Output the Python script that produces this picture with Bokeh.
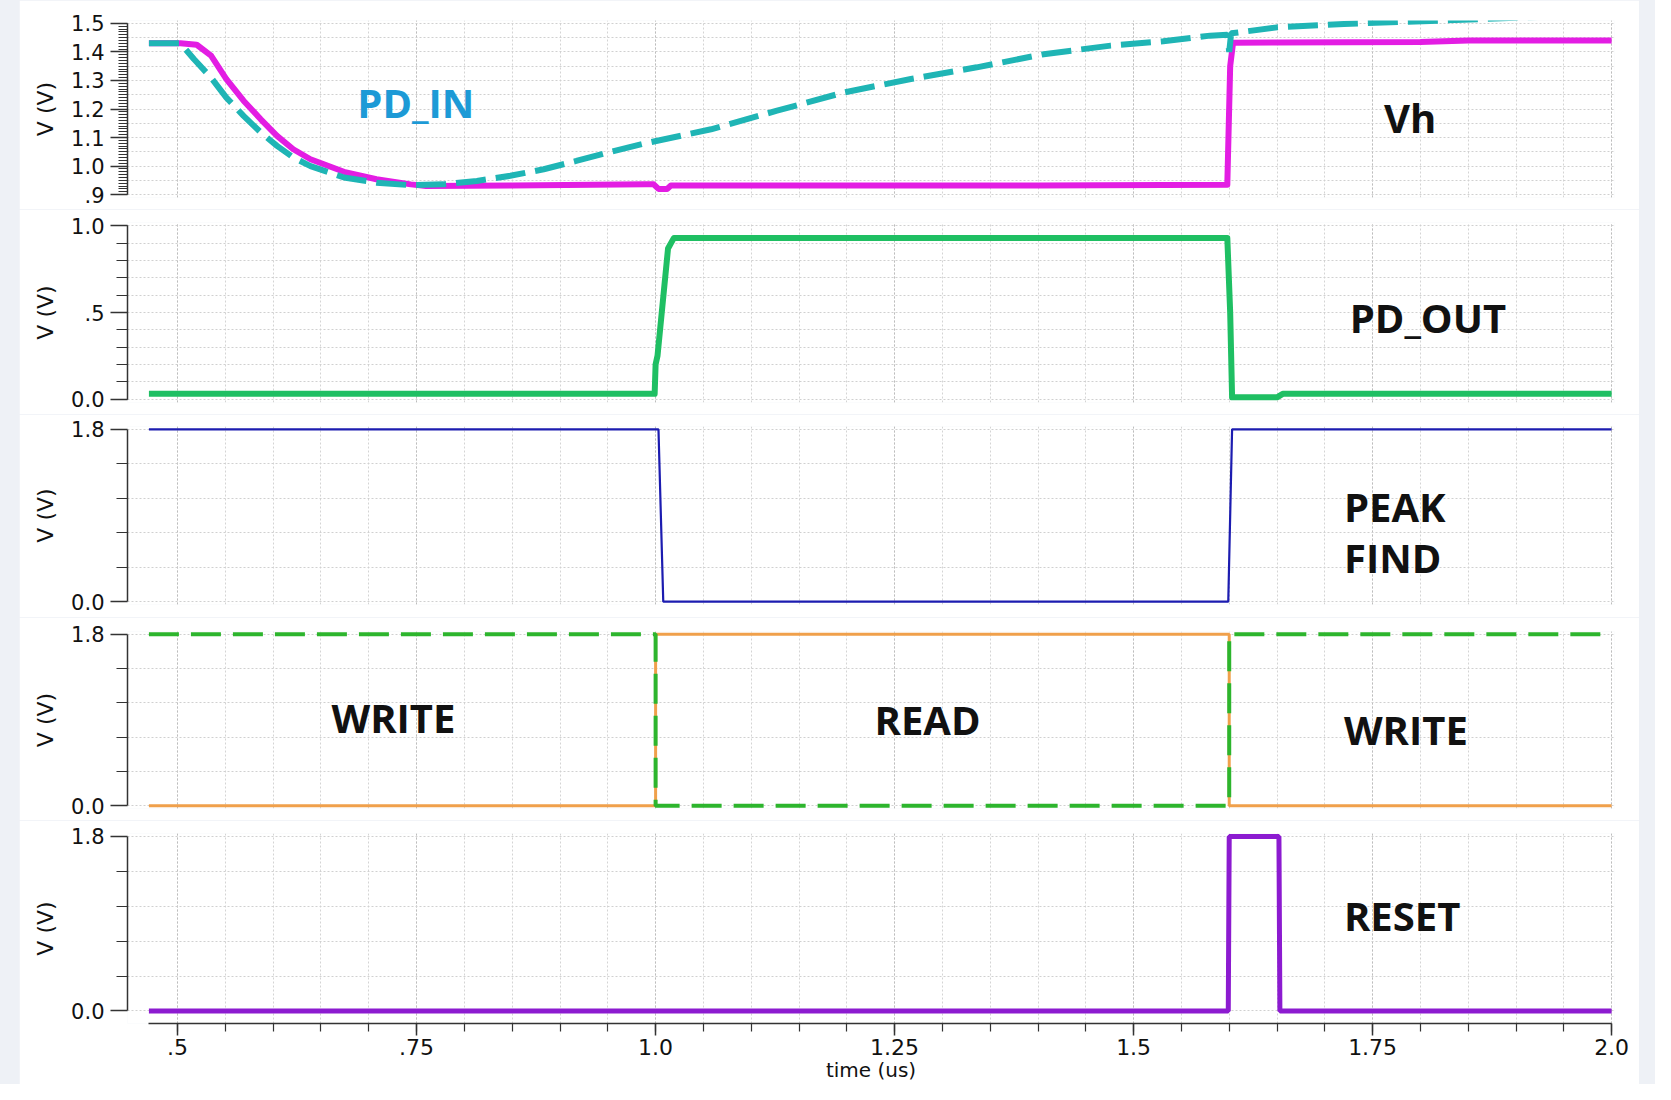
from bokeh.plotting import figure
from bokeh.models import Range1d, FixedTicker, Grid, Spacer, Label
from bokeh.layouts import column, row
from bokeh.embed import file_html
from bokeh.resources import INLINE

# ---------------- data (time in us, voltage in V) ----------------
vh_t = [0.47, 0.503, 0.52, 0.535, 0.551, 0.569, 0.587, 0.604, 0.621, 0.639, 0.674, 0.708,
        0.744, 0.76, 0.85, 0.99, 0.998, 1.003, 1.012, 1.016, 1.2, 1.4, 1.598, 1.601, 1.604,
        1.65, 1.8, 1.85, 2.0]
vh_v = [1.43, 1.43, 1.425, 1.387, 1.305, 1.229, 1.164, 1.106, 1.059, 1.024, 0.980, 0.954,
        0.936, 0.93, 0.932, 0.936, 0.936, 0.92, 0.92, 0.932, 0.932, 0.932, 0.935, 1.35, 1.432,
        1.433, 1.435, 1.44, 1.44]

pdin_t = [0.47, 0.503, 0.517, 0.535, 0.551, 0.569, 0.587, 0.604, 0.621, 0.639, 0.674, 0.708,
          0.744, 0.778, 0.813, 0.848, 0.883, 0.917, 0.953, 0.987, 1.058, 1.127, 1.197, 1.267,
          1.336, 1.406, 1.476, 1.531, 1.58, 1.598, 1.600, 1.602, 1.65, 1.72, 1.824, 1.9, 2.0]
pdin_v = [1.43, 1.43, 1.375, 1.31, 1.24, 1.176, 1.118, 1.071, 1.03, 1.0, 0.96, 0.942,
          0.933, 0.936, 0.948, 0.966, 0.989, 1.018, 1.05, 1.078, 1.129, 1.194, 1.258, 1.305,
          1.346, 1.392, 1.422, 1.437, 1.457, 1.46, 1.40, 1.465, 1.486, 1.498, 1.51, 1.52, 1.53]

pdout_t = [0.47, 0.999, 1.0, 1.002, 1.013, 1.019, 1.598, 1.601, 1.603, 1.65, 1.656, 2.0]
pdout_v = [0.03, 0.03, 0.2, 0.25, 0.87, 0.93, 0.93, 0.5, 0.01, 0.01, 0.03, 0.03]

peak_t = [0.47, 1.003, 1.008, 1.599, 1.603, 2.0]
peak_v = [1.8, 1.8, 0.0, 0.0, 1.8, 1.8]

read_t = [0.47, 1.0, 1.0, 1.6, 1.6, 2.0]
read_v = [0.0, 0.0, 1.8, 1.8, 0.0, 0.0]

write_t = [0.47, 1.0, 1.0, 1.6, 1.6, 2.0]
write_v = [1.8, 1.8, 0.0, 0.0, 1.8, 1.8]

reset_t = [0.47, 1.599, 1.600, 1.652, 1.653, 2.0]
reset_v = [0.0, 0.0, 1.8, 1.8, 0.0, 0.0]

# ticks / tick labels
x_ticks = [0.5, 0.75, 1.0, 1.25, 1.5, 1.75, 2.0]
x_tick_labels = [".5", ".75", "1.0", "1.25", "1.5", "1.75", "2.0"]
top_ticks = [0.9, 1.0, 1.1, 1.2, 1.3, 1.4, 1.5]
top_tick_labels = [".9", "1.0", "1.1", "1.2", "1.3", "1.4", "1.5"]
pdout_ticks = [0.0, 0.5, 1.0]
pdout_tick_labels = ["0.0", ".5", "1.0"]
dig_ticks = [0.0, 1.8]
dig_tick_labels = ["0.0", "1.8"]
dig_minor = [0.36, 0.72, 1.08, 1.44]

# ---------------- styling ----------------
BG = "#eef1f6"
FIG_W = 1620
TICK_FONT = "DejaVu Sans"
LBL_FONT = "Open Sans"

x_range = Range1d(0.4476, 2.003)
x_minor = [round(0.5 + 0.05 * i, 2) for i in range(31)]


def make_fig(height, yr, top, bottom, xaxis=False):
    p = figure(width=FIG_W, height=height, x_range=x_range, y_range=Range1d(*yr),
               output_backend="svg", toolbar_location=None,
               x_axis_location="below" if xaxis else None,
               min_border_left=108, min_border_right=25,
               min_border_top=top, min_border_bottom=bottom)
    p.outline_line_color = None
    p.border_fill_color = "white"
    p.background_fill_color = "white"
    p.grid.visible = False
    # vertical grid
    p.add_layout(Grid(dimension=0, ticker=FixedTicker(ticks=x_minor),
                      grid_line_color="#d4d4d4", grid_line_dash="2 2", grid_line_width=1))
    p.add_layout(Grid(dimension=0, ticker=FixedTicker(ticks=x_ticks),
                      grid_line_color="#bdbdbd", grid_line_dash="2 2", grid_line_width=1))
    ax = p.yaxis[0]
    ax.axis_label = "V (V)"
    ax.axis_label_text_font = TICK_FONT
    ax.axis_label_text_font_style = "normal"
    ax.axis_label_text_font_size = "22px"
    ax.axis_label_text_color = "#111111"
    ax.axis_label_standoff = 10
    ax.major_label_text_font = TICK_FONT
    ax.major_label_text_font_size = "21px"
    ax.major_label_text_color = "#111111"
    ax.major_label_standoff = 6
    ax.axis_line_color = "#333333"
    ax.axis_line_width = 1.5
    ax.major_tick_line_color = "#333333"
    ax.minor_tick_line_color = "#333333"
    ax.major_tick_line_width = 1.5
    ax.minor_tick_line_width = 1.2
    ax.major_tick_in = 0
    ax.minor_tick_in = 0
    ax.major_tick_out = 17
    ax.minor_tick_out = 11
    return p


def hgrid(p, ticks, color="#d0d0d0"):
    p.add_layout(Grid(dimension=1, ticker=FixedTicker(ticks=ticks),
                      grid_line_color=color, grid_line_dash="2 2", grid_line_width=1))


def add_text(p, x, y, txt, color="#111111", size="40px"):
    p.add_layout(Label(x=x, y=y, text=txt, text_font=LBL_FONT, text_font_style="bold",
                       text_font_size=size, text_color=color, text_baseline="middle",
                       text_align="left"))


# ---- panel 1: Vh / PD_IN ----
p1 = make_fig(209, (0.89, 1.51), 20, 12)
p1.yaxis.ticker = FixedTicker(ticks=top_ticks,
                              minor_ticks=[round(0.9 + 0.01 * i, 2) for i in range(61)])
p1.yaxis.major_label_overrides = dict(zip(top_ticks, top_tick_labels))
p1.yaxis.minor_tick_out = 9
p1.yaxis.bounds = (0.9, 1.5)
hgrid(p1, [round(0.9 + 0.05 * i, 2) for i in range(13)])
p1.line(vh_t, vh_v, line_color="#e31de3", line_width=6, line_join="round")
p1.line(pdin_t, pdin_v, line_color="#1fb5b5", line_width=6, line_dash="30 10")
add_text(p1, 0.688, 1.223, "PD_IN", color="#1d9ad6")
add_text(p1, 1.762, 1.17, "Vh")

# ---- panel 2: PD_OUT ----
p2 = make_fig(205, (-0.02, 1.02), 13, 12)
p2.yaxis.ticker = FixedTicker(ticks=pdout_ticks,
                              minor_ticks=[round(0.1 * i, 1) for i in range(11)])
p2.yaxis.major_label_overrides = dict(zip(pdout_ticks, pdout_tick_labels))
p2.yaxis.bounds = (0.0, 1.0)
hgrid(p2, [round(0.1 * i, 1) for i in range(11)])
p2.line(pdout_t, pdout_v, line_color="#1fbf63", line_width=6, line_join="round")
add_text(p2, 1.726, 0.47, "PD_OUT")

# ---- panel 3: PEAK FIND ----
p3 = make_fig(203, (-0.03, 1.83), 12, 13)
p3.yaxis.ticker = FixedTicker(ticks=dig_ticks, minor_ticks=dig_minor)
p3.yaxis.major_label_overrides = dict(zip(dig_ticks, dig_tick_labels))
p3.yaxis.bounds = (0.0, 1.8)
hgrid(p3, dig_ticks + dig_minor)
p3.line(peak_t, peak_v, line_color="#1c1cb0", line_width=2.2)
add_text(p3, 1.72, 0.99, "PEAK")
add_text(p3, 1.72, 0.46, "FIND")

# ---- panel 4: WRITE / READ ----
p4 = make_fig(203, (-0.03, 1.83), 14, 12)
p4.yaxis.ticker = FixedTicker(ticks=dig_ticks, minor_ticks=dig_minor)
p4.yaxis.major_label_overrides = dict(zip(dig_ticks, dig_tick_labels))
p4.yaxis.bounds = (0.0, 1.8)
hgrid(p4, dig_ticks + dig_minor)
p4.line(read_t, read_v, line_color="#f0a04b", line_width=3)
p4.line(write_t, write_v, line_color="#2db52d", line_width=4, line_dash="30 12")
add_text(p4, 0.661, 0.93, "WRITE")
add_text(p4, 1.229, 0.905, "READ")
add_text(p4, 1.72, 0.80, "WRITE")

# ---- panel 5: RESET ----
p5 = make_fig(264, (-0.13, 1.83), 13, 59, xaxis=True)
p5.yaxis.ticker = FixedTicker(ticks=dig_ticks, minor_ticks=dig_minor)
p5.yaxis.major_label_overrides = dict(zip(dig_ticks, dig_tick_labels))
p5.yaxis.bounds = (0.0, 1.8)
hgrid(p5, dig_ticks + dig_minor)
p5.line(reset_t, reset_v, line_color="#8c1bd0", line_width=5)
add_text(p5, 1.72, 0.98, "RESET")

xa = p5.xaxis[0]
xa.ticker = FixedTicker(ticks=x_ticks, minor_ticks=x_minor)
xa.major_label_overrides = dict(zip(x_ticks, x_tick_labels))
xa.bounds = (0.47, 2.0)
xa.major_label_text_font = TICK_FONT
xa.major_label_text_font_size = "22px"
xa.major_label_text_color = "#111111"
xa.major_label_standoff = 3
xa.axis_line_color = "#333333"
xa.axis_line_width = 1.5
xa.major_tick_line_color = "#333333"
xa.minor_tick_line_color = "#333333"
xa.major_tick_line_width = 1.5
xa.minor_tick_line_width = 1.2
xa.major_tick_in = 0
xa.minor_tick_in = 0
xa.major_tick_out = 12
xa.minor_tick_out = 8
xa.axis_label = "time (us)"
xa.axis_label_text_font = TICK_FONT
xa.axis_label_text_font_style = "normal"
xa.axis_label_text_font_size = "20px"
xa.axis_label_text_color = "#111111"
xa.axis_label_standoff = 0

col = column(p1, p2, p3, p4, p5, spacing=0)
layout = row(Spacer(width=19, height=1084, styles={"background-color": BG}),
             col,
             Spacer(width=16, height=1084, styles={"background-color": BG}),
             spacing=0, styles={"background-color": BG})

open("out.html", "w").write(file_html(layout, INLINE))
